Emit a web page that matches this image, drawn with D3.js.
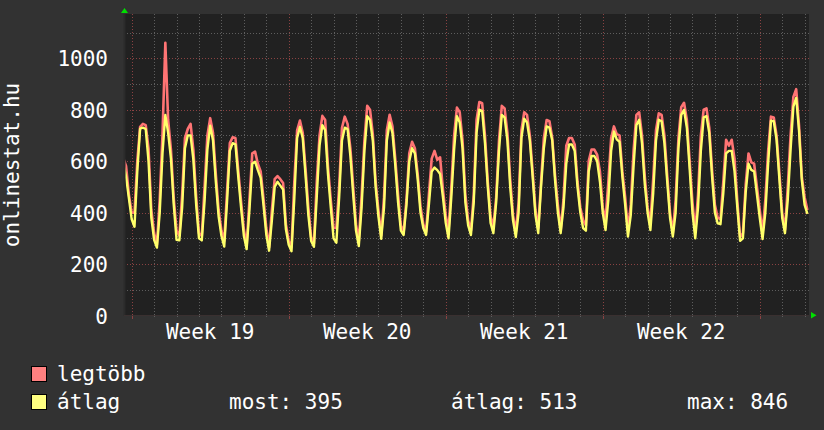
<!DOCTYPE html>
<html><head><meta charset="utf-8">
<script src="https://cdn.jsdelivr.net/npm/d3@7"></script>
<style>
html,body{margin:0;padding:0;background:#323232;}
svg{display:block;}
text{font-family:"DejaVu Sans Mono",monospace;fill:#ffffff;}
</style>
</head><body><div id="chart"></div>
<script>
// ---- data ----
const yTicks = [0, 200, 400, 600, 800, 1000];
const weekLabels = ["Week 19", "Week 20", "Week 21", "Week 22"];
const weekCenters = [3.5, 10.5, 17.5, 24.5];   // day offsets of week mid-points
const majorDays = [0, 7, 14, 21, 28];          // week boundaries
const seriesNames = ["legtöbb", "átlag"];
const statLabels = ["most: 395", "átlag: 513", "max: 846"];
const startDay = -0.375;   // time of first sample (days from start of Week 19)
const samplesPerDay = 8;   // 3-hour samples

// legtöbb (max), 3-hourly
const maxValues = [
  612, 580, 470,
  400, 400, 600, 733, 745, 740, 650, 410,
  320, 275, 450, 708, 1060, 760, 645, 455,
  330, 310, 470, 690, 725, 745, 644, 460,
  320, 310, 500, 700, 767, 710, 550, 410,
  330, 290, 480, 670, 693, 690, 565, 445,
  335, 270, 450, 630, 637, 590, 560, 455,
  340, 265, 410, 530, 542, 530, 515, 355,
  290, 265, 520, 720, 758, 710, 570, 420,
  305, 280, 520, 700, 776, 760, 580, 450,
  340, 340, 500, 730, 773, 745, 650, 500,
  355, 290, 465, 680, 815, 800, 705, 520,
  410, 310, 460, 720, 780, 735, 610, 470,
  350, 325, 450, 630, 675, 650, 550, 425,
  355, 325, 470, 610, 640, 605, 615, 490,
  390, 330, 500, 700, 808, 790, 680, 470,
  370, 330, 470, 760, 830, 825, 700, 520,
  385, 345, 460, 680, 815, 805, 710, 530,
  390, 325, 440, 720, 790, 780, 700, 560,
  410, 340, 520, 690, 760, 755, 690, 545,
  430, 330, 450, 660, 690, 690, 665, 520,
  420, 370, 350, 600, 645, 645, 625, 560,
  420, 370, 520, 690, 735, 705, 700, 560,
  460, 333, 430, 640, 780, 790, 700, 540,
  420, 358, 530, 720, 786, 780, 700, 545,
  400, 320, 450, 690, 810, 827, 760, 600,
  440, 326, 470, 700, 800, 805, 730, 565,
  430, 380, 375, 520, 683, 660, 683, 610,
  445, 305, 320, 510, 630, 595, 590, 500,
  410, 320, 450, 640, 773, 770, 700, 555,
  400, 333, 500, 700, 850, 880, 740, 540,
  460, 410
];

// átlag (average), 3-hourly
const avgValues = [
  590, 540, 455,
  374, 345, 560, 726, 730, 725, 600, 380,
  294, 264, 400, 632, 780, 710, 610, 430,
  294, 292, 420, 650, 700, 700, 605, 430,
  300, 292, 445, 645, 738, 680, 520, 385,
  310, 268, 440, 640, 670, 665, 540, 420,
  310, 258, 410, 590, 598, 565, 535, 430,
  315, 252, 370, 500, 520, 505, 490, 335,
  275, 250, 455, 690, 733, 690, 545, 390,
  290, 267, 460, 660, 740, 720, 550, 420,
  300, 283, 460, 680, 730, 725, 620, 470,
  330, 270, 420, 640, 775, 760, 680, 500,
  384, 298, 420, 680, 750, 710, 585, 440,
  330, 313, 430, 600, 650, 630, 530, 400,
  340, 313, 430, 560, 575, 565, 550, 460,
  360, 300, 460, 645, 775, 750, 650, 440,
  350, 313, 440, 710, 800, 795, 670, 500,
  360, 320, 440, 640, 780, 770, 680, 500,
  370, 305, 400, 690, 765, 750, 680, 540,
  390, 320, 500, 650, 735, 730, 680, 525,
  400, 320, 420, 590, 665, 665, 640, 500,
  400, 340, 330, 560, 620, 620, 600, 520,
  400, 332, 449, 640, 715, 685, 675, 540,
  430, 307, 390, 580, 740, 761, 670, 510,
  400, 332, 475, 680, 761, 755, 670, 520,
  380, 307, 400, 650, 780, 799, 730, 570,
  400, 300, 420, 640, 770, 775, 709, 540,
  400, 358, 355, 475, 630, 640, 640, 560,
  420, 290, 300, 480, 590, 566, 560, 470,
  380, 297, 400, 590, 757, 755, 683, 530,
  380, 320, 450, 644, 812, 846, 720, 527,
  430, 395
];

// ---- layout ----
const W = 824, H = 430;
const plot = {left: 124, right: 809, top: 14, bottom: 315.5};
const colors = {back: "#323232", canvas: "#212121", red: "#ff7474", yellow: "#ffff6a",
  grid: "#5e5e5e", mgrid: "#8a4242", arrow: "#00e000"};

const svg = d3.select("#chart").append("svg").attr("width", W).attr("height", H);
svg.append("rect").attr("width", W).attr("height", H).attr("fill", colors.back);

const x = d3.scaleLinear().domain([-0.343, 30.196]).range([plot.left, plot.right]);
const y = d3.scaleLinear().domain([0, 1172]).range([plot.bottom, plot.top]);

svg.append("rect").attr("x", plot.left).attr("y", plot.top)
  .attr("width", plot.right - plot.left).attr("height", plot.bottom - plot.top)
  .attr("fill", colors.canvas);

// grid
const g = svg.append("g").attr("shape-rendering", "crispEdges");
const days = d3.range(0, 31);
g.selectAll(".vg").data(days).join("line")
  .attr("x1", d => Math.round(x(d)) + 0.5).attr("x2", d => Math.round(x(d)) + 0.5)
  .attr("y1", plot.top).attr("y2", plot.bottom)
  .attr("stroke", d => majorDays.includes(d) ? colors.mgrid : colors.grid)
  .attr("stroke-dasharray", "1,2");
const hvals = d3.range(100, 1172, 100);
g.selectAll(".hg").data(hvals).join("line")
  .attr("x1", plot.left).attr("x2", plot.right)
  .attr("y1", d => Math.round(y(d)) + 0.5).attr("y2", d => Math.round(y(d)) + 0.5)
  .attr("stroke", d => d % 200 === 0 ? colors.mgrid : colors.grid)
  .attr("stroke-dasharray", "1,2");

// ticks on x axis
g.selectAll(".xt").data(days).join("line")
  .attr("x1", d => Math.round(x(d)) + 0.5).attr("x2", d => Math.round(x(d)) + 0.5)
  .attr("y1", plot.bottom - 2).attr("y2", d => majorDays.includes(d) ? plot.bottom + 3 : plot.bottom + 1)
  .attr("stroke", d => majorDays.includes(d) ? colors.mgrid : colors.grid);

// lines
svg.append("clipPath").attr("id", "clip").append("rect")
  .attr("x", plot.left).attr("y", plot.top)
  .attr("width", plot.right - plot.left).attr("height", plot.bottom - plot.top);
const line = d3.line().x((d, i) => x(startDay + i / samplesPerDay)).y(d => y(d));
const lg = svg.append("g").attr("clip-path", "url(#clip)");
lg.append("path").datum(maxValues).attr("d", line).attr("fill", "none")
  .attr("stroke", colors.red).attr("stroke-width", 2.6).attr("stroke-linejoin", "round");
lg.append("path").datum(avgValues).attr("d", line).attr("fill", "none")
  .attr("stroke", colors.yellow).attr("stroke-width", 2.4).attr("stroke-linejoin", "round");

// axis lines
svg.append("line").attr("x1", plot.left + 0.5).attr("x2", plot.left + 0.5)
  .attr("y1", plot.top).attr("y2", plot.bottom).attr("stroke", "#2b2b2b").attr("stroke-width", 2);
svg.append("line").attr("x1", plot.left).attr("x2", plot.right)
  .attr("y1", plot.bottom).attr("y2", plot.bottom).attr("stroke", "#3a3030").attr("stroke-width", 1);

// arrows
svg.append("path").attr("d", `M${plot.left - 3},13 L${plot.left + 4},13 L${plot.left + 0.5},8 Z`).attr("fill", colors.arrow);
svg.append("path").attr("d", `M811,${plot.bottom - 3.5} L811,${plot.bottom + 3} L816.5,${plot.bottom - 0.25} Z`).attr("fill", colors.arrow);

// y axis labels
const yAxis = d3.axisLeft(y).tickValues(yTicks).tickFormat(d3.format("d")).tickSize(0).tickPadding(16);
const ya = svg.append("g").attr("transform", `translate(${plot.left},0)`).call(yAxis);
ya.select(".domain").remove();
ya.selectAll("text").attr("font-size", 21).attr("fill", "#ffffff")
  .attr("font-family", "DejaVu Sans Mono, monospace").attr("dy", "0.36em");

// week labels
svg.selectAll(".wk").data(weekLabels).join("text")
  .attr("x", (d, i) => x(weekCenters[i])).attr("y", 338.5)
  .attr("text-anchor", "middle").attr("font-size", 21).text(d => d);

// y title
svg.append("text").attr("transform", "translate(19,165) rotate(-90)")
  .attr("text-anchor", "middle").attr("font-size", 21).text("onlinestat.hu");

// legend
const legColors = ["#ff8080", "#ffff80"];
seriesNames.forEach((name, i) => {
  const yy = 366 + i * 28;
  svg.append("rect").attr("x", 31.5).attr("y", yy + 0.5).attr("width", 15).attr("height", 15)
    .attr("fill", legColors[i]).attr("stroke", "#000").attr("stroke-width", 1);
  svg.append("text").attr("x", 57).attr("y", yy + 15).attr("font-size", 21).text(name);
});
const statX = [229, 451, 687];
statLabels.forEach((s, i) => {
  svg.append("text").attr("x", statX[i]).attr("y", 409).attr("font-size", 21).attr("xml:space", "preserve").text(s);
});
</script>
</body></html>
